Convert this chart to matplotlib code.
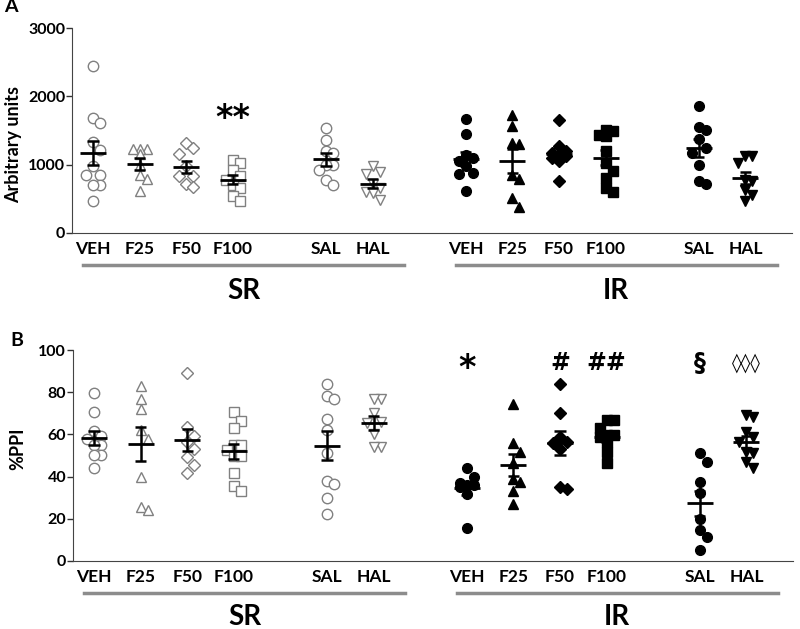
import numpy as np
import matplotlib.pyplot as plt
from matplotlib.lines import Line2D

plt.rcParams['font.family'] = ['Lato', 'DejaVu Sans']
plt.rcParams['font.weight'] = 'bold'

groups = ['VEH', 'F25', 'F50', 'F100', 'SAL', 'HAL']
markers = ['o', '^', 'D', 's', 'o', 'v']

# panel A, arbitrary units
a_sr = [
    [2440, 1680, 1610, 1330, 1220, 975, 855, 855, 700, 700, 475],
    [1230, 1230, 1230, 1150, 1000, 850, 790, 620],
    [1310, 1245, 1160, 975, 840, 830, 720, 680],
    [1075, 1025, 925, 830, 780, 707, 660, 546, 468],
    [1537, 1366, 1195, 1170, 1000, 1000, 927, 780, 707],
    [980, 900, 860, 720, 660, 600, 590, 480],
]
a_ir = [
    [1668, 1449, 1140, 1100, 1050, 975, 880, 860, 620],
    [1732, 1570, 1317, 1307, 854, 790, 512, 380],
    [1649, 1268, 1200, 1170, 1150, 1120, 1100, 1050, 756],
    [1502, 1487, 1440, 1415, 1195, 1024, 902, 805, 658, 600],
    [1863, 1512, 1551, 1375, 1244, 1170, 990, 756, 717],
    [1131, 1122, 1024, 780, 756, 634, 561, 463],
]
# panel B, %PPI
b_sr = [
    [79.5, 70.5, 61.7, 59.3, 57.6, 55, 55, 50.2, 50.2, 44],
    [83, 77, 72, 62, 58, 40, 25.6, 24.4],
    [89, 63.6, 59.3, 56.2, 53.3, 49.4, 45.7, 41.5],
    [70.7, 66.5, 62.8, 54.9, 54.9, 52.5, 49.8, 49.8, 41.8, 35.4, 33],
    [83.9, 78.2, 76.9, 67.2, 62, 51.4, 38, 36.4, 30, 22.5],
    [77, 77, 70, 66, 65.2, 60, 54, 54],
]
b_ir = [
    [44, 39.6, 37, 36, 36, 35, 31.6, 15.8],
    [74.2, 55.7, 51.7, 46.5, 39, 37.5, 33.2, 27.2],
    [83.9, 70.3, 58.9, 56.5, 55.7, 53.3, 35.1, 34.3],
    [66.8, 66.8, 62.8, 59.7, 59.7, 58.9, 56.5, 51.7, 46.5],
    [51, 47, 37.5, 32, 20, 14.6, 11.4, 5],
    [69, 68.4, 61.2, 59, 56.5, 51.7, 51, 47, 44.3],
]
a_marks = {'SR': [('**', 3)], 'IR': []}
b_marks = {'SR': [], 'IR': [('*', 0), ('#', 2), ('##', 3), ('§', 4), ('◊◊◊', 5)]}


def pos_of(g, i):
    return g * 8 + i + (1 if i >= 4 else 0)


def swarm(ax, vals, diam=9.5, step=7.0):
    x0, x1 = ax.get_xlim()
    y0, y1 = ax.get_ylim()
    px_x = ax.bbox.width / (x1 - x0)
    px_y = ax.bbox.height / (y1 - y0)
    placed = []
    offs = np.zeros(len(vals))
    for idx in np.argsort(vals)[::-1]:
        yp = vals[idx] * px_y
        best, best_d = 0.0, -1
        for k in [0, 1, -1]:
            xp = k * step
            d = min([np.hypot(xp - a, yp - b) for a, b in placed] + [1e9])
            if d >= diam:
                best = xp
                break
            if d > best_d + 0.5:
                best, best_d = xp, d
        placed.append((best, yp))
        offs[idx] = best / px_x
    return offs


def draw_panel(ax, sr, ir, ylim, yticks, ylabel, marks, mark_y, line_y, name_y):
    ax.set_xlim(-0.45, 15)
    ax.set_ylim(*ylim)
    for g, data in enumerate([sr, ir]):
        filled = g == 1
        for i, vals in enumerate(data):
            vals = np.array(vals, dtype=float)
            p = pos_of(g, i)
            xs = p + swarm(ax, vals)
            if filled:
                ax.plot(xs, vals, ls='none', marker=markers[i], ms=7 if markers[i] != 'D' else 6,
                        mfc='black', mec='black', zorder=2)
            else:
                ax.plot(xs, vals, ls='none', marker=markers[i], ms=7.5 if markers[i] != 'D' else 6.5,
                        mfc='white', mec='#808080', mew=1.0, zorder=2)
            m = vals.mean()
            sem = vals.std(ddof=1) / np.sqrt(len(vals))
            ax.hlines(m, p - 0.28, p + 0.28, color='black', lw=2, zorder=3)
            ax.vlines(p, m - sem, m + sem, color='black', lw=1.8, zorder=3)
            ax.hlines([m - sem, m + sem], p - 0.12, p + 0.12, color='black', lw=1.8, zorder=3)
        for txt, i in marks['SR' if g == 0 else 'IR']:
            ax.text(pos_of(g, i), mark_y[txt], txt, transform=ax.get_xaxis_transform(),
                    ha='center', va='center',
                    fontsize=24 if '*' in txt else (14 if txt == '◊◊◊' else 17),
                    fontweight='bold', family=['DejaVu Sans'])
    ticks = [pos_of(g, i) for g in range(2) for i in range(6)]
    ax.set_xticks(ticks)
    ax.set_xticklabels(groups * 2, fontsize=12.5, fontweight='bold')
    ax.tick_params(axis='x', length=0, pad=6)
    ax.set_yticks(yticks)
    ax.tick_params(axis='y', length=4, width=1, labelsize=11.5, pad=1, colors='#333333')
    for lab in ax.get_yticklabels():
        lab.set_fontweight('bold')
        lab.set_color('black')
    ax.set_ylabel(ylabel, fontsize=13, fontweight='bold')
    for s in ['top', 'right']:
        ax.spines[s].set_visible(False)
    ax.spines['left'].set_color('#444444')
    ax.spines['bottom'].set_color('#444444')
    tr = ax.get_xaxis_transform()
    for g, lab in enumerate(['SR', 'IR']):
        a = g * 8 - 0.21
        b = g * 8 + 6.67
        ax.add_line(Line2D([a, b], [line_y, line_y], transform=tr, color='#8c8c8c',
                           lw=2.5, clip_on=False))
        ax.text((a + b) / 2, name_y, lab, transform=tr, ha='center', va='baseline',
                fontsize=20, fontweight='bold')


fig = plt.figure(figsize=(8, 6.29), dpi=100)
ax_a = fig.add_axes([72 / 800, 1 - 233 / 629, 720 / 800, 205 / 629])
ax_b = fig.add_axes([73 / 800, 1 - 561 / 629, 720 / 800, 211 / 629])

draw_panel(ax_a, a_sr, a_ir, (0, 3000), [0, 1000, 2000, 3000], 'Arbitrary units',
           a_marks, {'**': 0.56}, -0.156, -0.32)
draw_panel(ax_b, b_sr, b_ir, (0, 100), [0, 20, 40, 60, 80, 100], '%PPI',
           b_marks, {'*': 0.91, '#': 0.94, '##': 0.94, '§': 0.94, '◊◊◊': 0.94}, -0.152, -0.305)

ax_a.yaxis.set_label_coords(-0.07, 0.43)
ax_b.yaxis.set_label_coords(-0.065, 0.53)
fig.text(11 / 800, 1 - 7 / 629, 'A', fontsize=14, fontweight='bold', ha='center', va='center')
fig.text(17 / 800, 1 - 341 / 629, 'B', fontsize=14, fontweight='bold', ha='center', va='center')

fig.savefig('out.png', dpi=100)
